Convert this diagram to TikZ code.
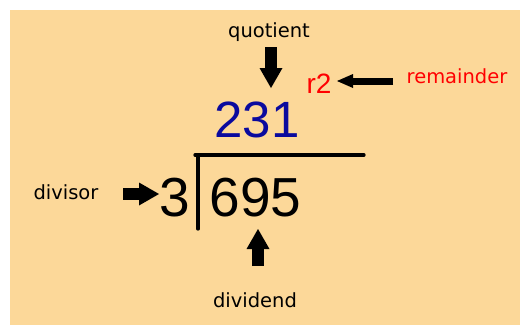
\documentclass[tikz,border=0pt]{standalone}
\usepackage{fontspec}
\setmainfont{DejaVu Sans}
\newfontfamily\numfont{Liberation Sans}
\usetikzlibrary{arrows.meta}
\definecolor{peach}{HTML}{FCD899}
\definecolor{navy}{HTML}{0A0A9E}
\definecolor{redtxt}{HTML}{FF0000}
\tikzset{
  every node/.style={inner sep=0pt},
  lbl/.style={font=\fontsize{19.5}{20}\selectfont,anchor=base},
  bignum/.style={font=\numfont\fontsize{55}{56}\selectfont,anchor=base},
  fatarrow/.style={draw=black,line width=12pt,-{Triangle[width=23pt,length=20pt,line width=0pt]}},
  thinarrow/.style={draw=black,line width=7pt,-{Triangle[width=14pt,length=16pt,line width=0pt]}},
  bracket/.style={draw=black,line width=3.3pt,line cap=round}
}

\begin{document}
\begin{tikzpicture}[x=1pt,y=-1pt]
  \useasboundingbox (0,0) rectangle (520,325);
  \fill[peach] (10,10) rectangle (520,325);

  % the sum
  \node[bignum] (dsr) at (175,216) {3};
  \node[bignum] (dnd) at (255.5,216) {695};
  \node[bignum,text=navy,font=\numfont\fontsize{51}{52}\selectfont] (quo) at (257,137) {231};
  \node[anchor=base,text=redtxt,font=\numfont\fontsize{28}{28}\selectfont] (rem) at (319,93) {r2};
  \draw[bracket] (195,155) -- (364,155);
  \draw[bracket] (198,155) -- (198,229);

  % labels
  \node[lbl] (quotlbl) at (269,37) {quotient};
  \node[lbl,text=redtxt] (remlbl) at (457,83) {remainder};
  \node[lbl] (dsrlbl) at (66,199) {divisor};
  \node[lbl] (dndlbl) at (255,307) {dividend};

  % arrow ends
  \coordinate (qtail) at (271,47);
  \coordinate (qtip) at (271,88);
  \coordinate (rtail) at (393,81);
  \coordinate (rtip) at (337,81);
  \coordinate (dsrtail) at (123,194);
  \coordinate (dsrtip) at (159,194);
  \coordinate (dndtail) at (258,266);
  \coordinate (dndtip) at (258,229);

  \draw[fatarrow] (qtail) -- (qtip);
  \draw[thinarrow] (rtail) -- (rtip);
  \draw[fatarrow] (dsrtail) -- (dsrtip);
  \draw[fatarrow] (dndtail) -- (dndtip);
\end{tikzpicture}
\end{document}
